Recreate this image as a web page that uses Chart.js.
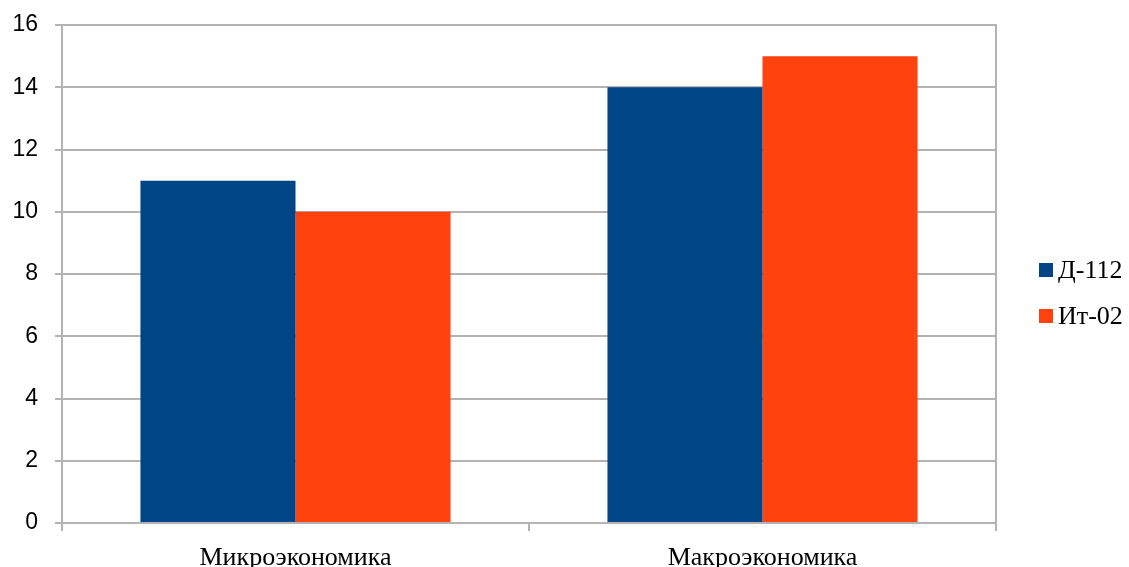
<!DOCTYPE html>
<html>
<head>
<meta charset="utf-8">
<script src="https://cdn.jsdelivr.net/npm/chart.js@4.4.0/dist/chart.umd.min.js"></script>
<style>
  html, body { margin: 0; padding: 0; background: #fff; }
  #wrap { width: 1129px; height: 567px; }
</style>
</head>
<body>
<div id="wrap"><canvas id="chart" width="1129" height="567"></canvas></div>
<script>
// data
const categories = ['Микроэкономика', 'Макроэкономика'];
const seriesD112 = [11, 14];
const seriesIt02 = [10, 15];
const seriesNames = ['Д-112', 'Ит-02'];

const gridColor = '#b3b3b3';

// legend drawn at the right, like the original
const sideLegend = {
    id: 'sideLegend',
    afterDraw(chart) {
        const c = chart.ctx;
        c.save();
        c.font = '26px "Liberation Serif", serif';
        c.textBaseline = 'middle';
        chart.data.datasets.forEach((ds, i) => {
            const y = 270 + i * 46;
            c.fillStyle = ds.backgroundColor;
            c.fillRect(1039, y - 7, 14, 14);
            c.fillStyle = '#000';
            c.fillText(ds.label, 1058, y + 1);
        });
        c.restore();
    }
};

new Chart(document.getElementById('chart').getContext('2d'), {
    type: 'bar',
    data: {
        labels: categories,
        datasets: [
            { label: seriesNames[0], data: seriesD112, backgroundColor: '#004586' },
            { label: seriesNames[1], data: seriesIt02, backgroundColor: '#ff420e' }
        ]
    },
    options: {
        responsive: false,
        animation: false,
        layout: { padding: { top: 25, bottom: 0, left: 0, right: 0 } },
        plugins: {
            legend: { display: false },
            tooltip: { enabled: false }
        },
        datasets: {
            bar: { categoryPercentage: 0.664, barPercentage: 1.0 }
        },
        scales: {
            x: {
                grid: { drawOnChartArea: false, color: gridColor, lineWidth: 2, tickLength: 8 },
                border: { color: gridColor, width: 2 },
                ticks: { color: '#000', font: { family: '"Liberation Serif", serif', size: 26 }, padding: 12 },
                afterFit(s) { s.height = 44; }
            },
            y: {
                min: 0, max: 16,
                ticks: { stepSize: 2, color: '#000', font: { family: '"Liberation Sans", Arial, sans-serif', size: 23 }, padding: 17 },
                grid: { color: gridColor, lineWidth: 2, tickLength: 7 },
                border: { color: gridColor, width: 2 },
                afterFit(s) { s.width = 62; s.paddingTop = 0; s.paddingBottom = 0; }
            },
            yRight: {
                position: 'right',
                min: 0, max: 16,
                ticks: { display: false },
                grid: { drawOnChartArea: false, drawTicks: false },
                border: { color: gridColor, width: 2 },
                afterFit(s) { s.width = 133; }
            }
        }
    },
    plugins: [sideLegend]
});
</script>
</body>
</html>
